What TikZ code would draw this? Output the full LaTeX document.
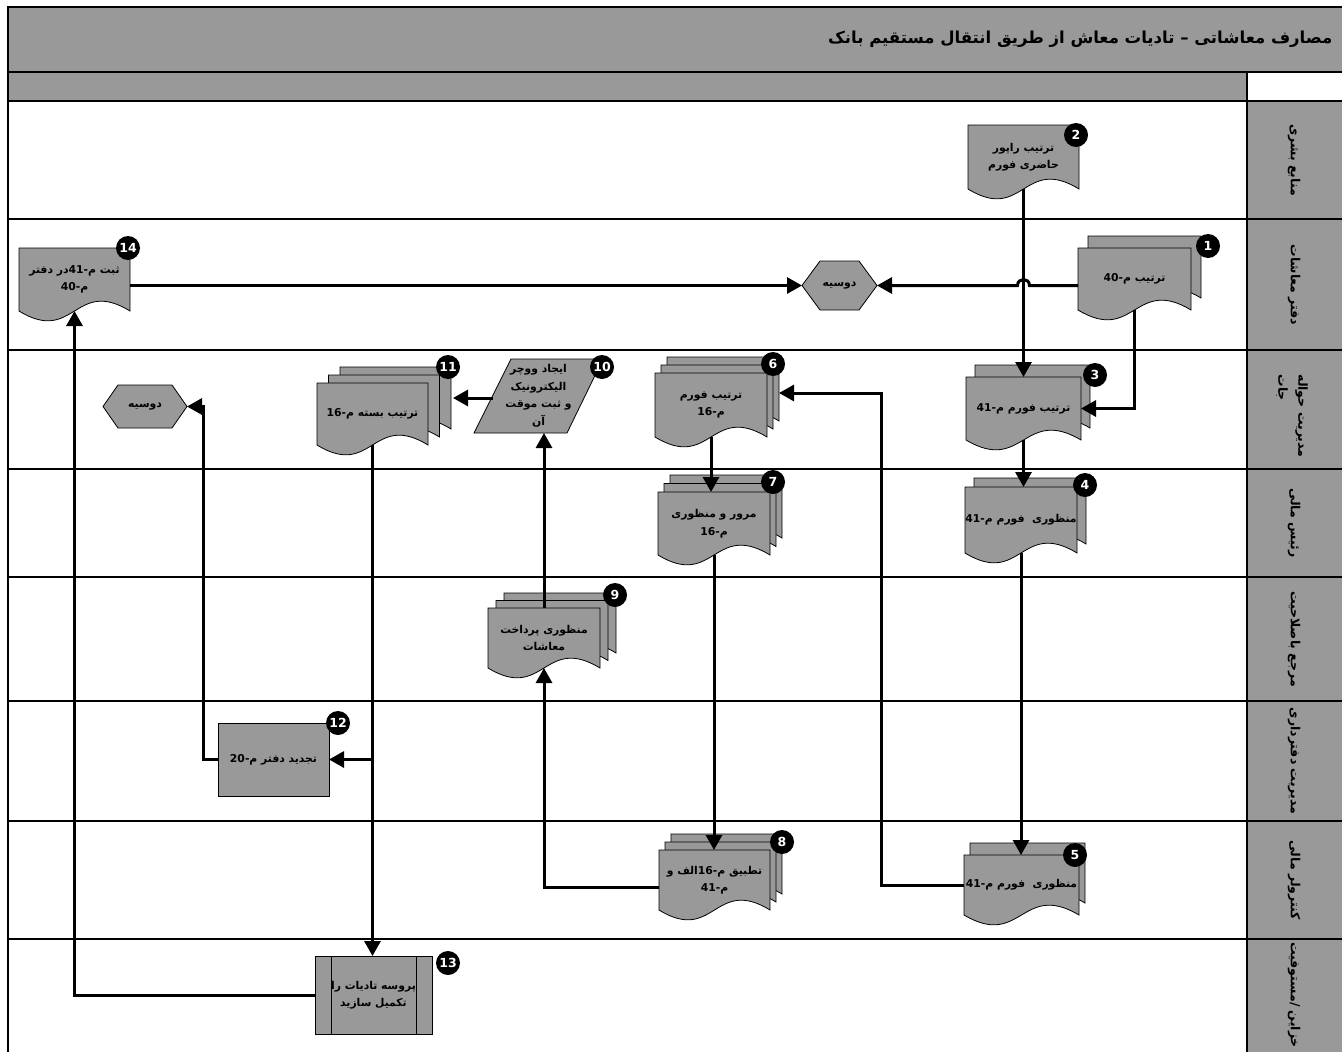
\documentclass[tikz,border=0pt]{standalone}
\usepackage{fontspec}
\setmainfont{DejaVu Sans}
\newfontfamily\arabicfont[Script=Arabic]{DejaVu Sans}
\TeXXeTstate=1
\usetikzlibrary{arrows.meta,calc}
\definecolor{lanegray}{HTML}{999999}

% right-to-left line and embedded left-to-right number
\newcommand\rl[1]{\beginR#1\endR}
\newcommand\lnum[1]{\beginL#1\endL{}}
\newcommand\labelfont{\arabicfont\bfseries\fontsize{10.8}{17.5}\selectfont}
\newcommand\headfont{\arabicfont\bfseries\fontsize{12.5}{20}\selectfont}
\newcommand\badgefont{\bfseries\fontsize{12.5}{12.5}\selectfont}

% one document page: top-left x, y, width, height to the corners of the wavy edge
\newcommand\docpage[4]{%
  \pgfmathsetmacro\dpR{#1+#3}%
  \pgfmathsetmacro\dpM{#1+#3/2}%
  \pgfmathsetmacro\dpB{#2+#4}%
  \pgfmathsetmacro\dpU{#2+#4-34}%
  \pgfmathsetmacro\dpD{#2+#4+34}%
  \filldraw[shapebox] (#1,#2) -- (\dpR,#2) -- (\dpR,\dpB)
    .. controls (\dpM,\dpU) and (\dpM,\dpD) .. (#1,\dpB) -- cycle;}

% stacked pages: front x, y, w, h, number of pages, offset right, offset up
\newcommand\stackdoc[7]{%
  \foreach \k in {#5,...,1}{%
    \pgfmathsetmacro\sdX{#1+(\k-1)*#6}%
    \pgfmathsetmacro\sdY{#2-(\k-1)*#7}%
    \docpage{\sdX}{\sdY}{#3}{#4}}}

% hexagon between x1,y1 and x2,y2 with slanted tips of the given inset
\newcommand\hexshape[5]{%
  \pgfmathsetmacro\hxA{#1+#5}%
  \pgfmathsetmacro\hxB{#3-#5}%
  \pgfmathsetmacro\hxM{(#2+#4)/2}%
  \filldraw[shapebox] (#1,\hxM) -- (\hxA,#2) -- (\hxB,#2) -- (#3,\hxM)
    -- (\hxB,#4) -- (\hxA,#4) -- cycle;}

\begin{document}
\begin{tikzpicture}[x=1pt,y=-1pt,
  shapebox/.style={fill=lanegray,draw=black,line width=0.8pt},
  area/.style={inner sep=0pt,outer sep=0pt,align=center,font=\labelfont},
  conn/.style={line width=3pt,-{Triangle[length=15pt,width=16pt]}},
  badge/.style={circle,fill=black,minimum size=24pt,inner sep=0pt,text=white,font=\badgefont},
  laneline/.style={line width=1.4pt},
  frameline/.style={line width=2pt},
  lanehead/.style={rotate=-90,align=center,font=\headfont}]

\useasboundingbox (0,0) rectangle (1342,1052);
\fill[white] (0,0) rectangle (1342,1052);

% ---- pool frame, title band and lane headers
\fill[lanegray] (8,7) rectangle (1342,72);
\fill[lanegray] (8,72) rectangle (1247,101);
\fill[lanegray] (1247,101) rectangle (1342,1052);
\draw[frameline] (8,1052) -- (8,7) -- (1342,7);
\draw[laneline] (8,72) -- (1342,72);
\foreach \yy in {101,219,350,469,577,701,821,939}
  \draw[laneline] (8,\yy) -- (1342,\yy);
\draw[laneline] (1247,72) -- (1247,1052);

\node[anchor=east,font=\arabicfont\bfseries\fontsize{16.5}{20}\selectfont] (title) at (1336,39)
  {\rl{مصارف معاشاتی – تادیات معاش از طریق انتقال مستقیم بانک}};

\node[lanehead] (L1) at (1294,160) {\rl{منابع بشری}};
\node[lanehead] (L2) at (1294,285) {\rl{دفتر معاشات}};
\node[lanehead,align=left] (L3) at (1292,416) {\rl{مدیریت حواله}\\\rl{جات}};
\node[lanehead] (L4) at (1294,523) {\rl{رئیس مالی}};
\node[lanehead] (L5) at (1294,639) {\rl{مرجع باصلاحیت}};
\node[lanehead] (L6) at (1294,761) {\rl{مدیریت دفترداری}};
\node[lanehead] (L7) at (1294,880) {\rl{کنترولر مالی}};
\node[lanehead] (L8) at (1294,995) {\rl{خزاین /مستوفیت}};

% ---- shapes
\stackdoc{1078}{248}{113}{62}{2}{10}{12}
\docpage{968}{125}{111}{64}
\stackdoc{966}{377}{115}{63}{2}{9}{12}
\stackdoc{965}{487}{112}{66}{2}{9}{9}
\stackdoc{964}{855}{115}{60}{2}{6}{12}
\stackdoc{655}{373}{112}{64}{3}{6}{8}
\stackdoc{658}{492}{112}{63}{3}{6}{8.5}
\stackdoc{659}{850}{111}{60}{3}{6}{8}
\stackdoc{488}{608}{112}{60}{3}{8}{7.5}
\stackdoc{317}{383}{111}{62}{3}{11.5}{8}
\docpage{19}{248}{111}{63}
\filldraw[shapebox] (511,359) -- (603,359) -- (567,433) -- (474,433) -- cycle;
\filldraw[shapebox] (218,723) rectangle (329,796);
\filldraw[shapebox] (315,956) rectangle (432,1034);
\draw[line width=0.8pt] (331,956) -- (331,1034) (416,956) -- (416,1034);
\hexshape{802}{261}{877}{310}{18}
\hexshape{103}{385}{187}{428}{15}

% ---- labels of the shapes
\node[area,minimum width=113pt,minimum height=62pt] (s1) at (1134.5,279) {\rl{ترتیب م-\lnum{40}}};
\node[area,minimum width=111pt,minimum height=64pt] (s2) at (1023.5,157) {\rl{ترتیب راپور}\\\rl{حاضری فورم}};
\node[area,minimum width=115pt,minimum height=63pt] (s3) at (1023.5,408.5) {\rl{ترتیب فورم م-\lnum{41}}};
\node[area,minimum width=112pt,minimum height=66pt] (s4) at (1021,520) {\rl{منظوری~~فورم م-\lnum{41}}};
\node[area,minimum width=115pt,minimum height=60pt] (s5) at (1021.5,885) {\rl{منظوری~~فورم م-\lnum{41}}};
\node[area,minimum width=112pt,minimum height=64pt] (s6) at (711,405) {\rl{ترتیب فورم}\\\rl{م-\lnum{16}}};
\node[area,minimum width=112pt,minimum height=63pt] (s7) at (714,523.5) {\rl{مرور و منظوری}\\\rl{م-\lnum{16}}};
\node[area,minimum width=111pt,minimum height=60pt] (s8) at (714.5,880) {\rl{تطبیق م-\lnum{16}الف و}\\\rl{م-\lnum{41}}};
\node[area,minimum width=112pt,minimum height=60pt] (s9) at (544,638) {\rl{منظوری پرداخت}\\\rl{معاشات}};
\node[area,minimum width=129pt,minimum height=74pt] (s10) at (538.5,396) {\rl{ایجاد ووچر}\\\rl{الیکترونیک}\\\rl{و ثبت موقت}\\\rl{آن}};
\node[area,minimum width=111pt,minimum height=62pt] (s11) at (372.5,414) {\rl{ترتیب بسته م-\lnum{16}}};
\node[area,minimum width=111pt,minimum height=73pt] (s12) at (273.5,759.5) {\rl{تجدید دفتر م-\lnum{20}}};
\node[area,minimum width=117pt,minimum height=78pt] (s13) at (373.5,995) {\rl{پروسه تادیات را}\\\rl{تکمیل سازید}};
\node[area,minimum width=111pt,minimum height=63pt] (s14) at (74.5,279.5) {\rl{ثبت م-\lnum{41}در دفتر}\\\rl{م-\lnum{40}}};
\node[area,minimum width=75pt,minimum height=49pt] (hM) at (839.5,285.5) {\rl{دوسیه}};
\node[area,minimum width=84pt,minimum height=43pt] (hL) at (145,406.5) {\rl{دوسیه}};
\coordinate (p10w) at (492.5,398);

% ---- connectors
\coordinate (hopC) at (s2.south |- hM.east);
\coordinate (hopR) at ($(hopC)+(6,0)$);
\coordinate (hopL) at ($(hopC)+(-6,0)$);
\draw[conn] (s2.south) -- (s2.south |- s3.north);
\draw[conn] (s1.west |- hM.east) -- (hopR)
  .. controls ($(hopR)+(0,-8)$) and ($(hopL)+(0,-8)$) .. (hopL) -- (hM.east);
\draw[conn] (s1.south) |- (s3.east);
\draw[conn] (s3.south) -- (s3.south |- s4.north);
\draw[conn] (s4.south) -- (s4.south |- s5.north);
\draw[conn] (s5.west) -- ++(-83,0) |- ($(s6.east)+(12,-12)$);
\draw[conn] (s6.south) -- (s6.south |- s7.north);
\draw[conn] (s7.south) -- (s7.south |- s8.north);
\draw[conn] ($(s8.west)+(0,7)$) -| (s9.south);
\draw[conn] (s9.north) -- (s9.north |- s10.south);
\coordinate (c11end) at ($(s11.east)+(25,0)$);
\draw[conn] (p10w) -- (p10w -| c11end);
\draw[conn] (s11.south) -- (s11.south |- s13.north);
\draw[conn] (s11.south |- s12.east) -- (s12.east);
\draw[conn] (s12.west) -- ++(-15,0) |- (hL.east);
\draw[conn] (s13.west) -| (s14.south);
\draw[conn] (s14.east |- hM.west) -- (hM.west);

% ---- step numbers
\node[badge] (b1) at (1208,246) {1};
\node[badge] (b2) at (1076,135) {2};
\node[badge] (b3) at (1095,375) {3};
\node[badge] (b4) at (1085,485) {4};
\node[badge] (b5) at (1075,855) {5};
\node[badge] (b6) at (773,364) {6};
\node[badge] (b7) at (773,482) {7};
\node[badge] (b8) at (782,842) {8};
\node[badge] (b9) at (615,595) {9};
\node[badge] (b10) at (602,367) {10};
\node[badge] (b11) at (448,367) {11};
\node[badge] (b12) at (338,723) {12};
\node[badge] (b13) at (448,963) {13};
\node[badge] (b14) at (128,248) {14};
\end{tikzpicture}
\end{document}
